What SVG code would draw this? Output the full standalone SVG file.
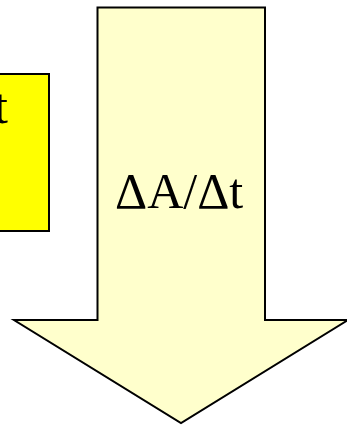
<svg xmlns="http://www.w3.org/2000/svg" width="347" height="425" viewBox="0 0 347 425">
<style>
.lbl{font-family:"Liberation Serif","Times New Roman",serif;font-size:50px;fill:#000}
.edge{stroke:#000;stroke-width:2;stroke-linejoin:miter}
</style>
<rect width="347" height="425" fill="#fff"/>
<g id="box">
<rect class="edge" x="-10" y="74" width="59" height="157" fill="#ffff00"/>
<text class="lbl" x="8" y="123" text-anchor="end">t</text>
</g>
<g id="arrow">
<polygon class="edge" points="97.5,7.5 265,7.5 265,320 348,320 181,423 14,320 97.5,320" fill="#ffffcc"/>
<text class="lbl" x="115" y="208">ΔA/Δt</text>
</g>
<g id="connectors"></g>
</svg>
